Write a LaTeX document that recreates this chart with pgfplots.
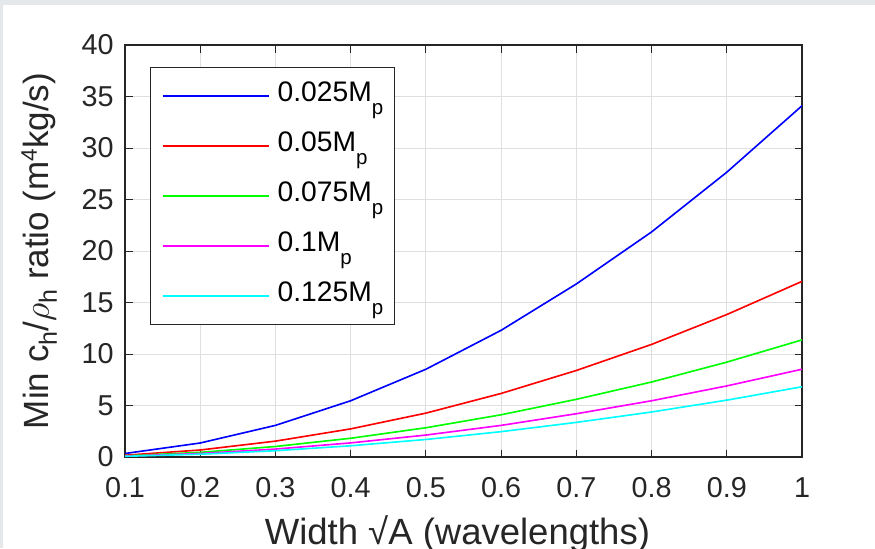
\documentclass[border=0pt]{standalone}
\usepackage{fontspec}
\setmainfont{Liberation Sans}
\usepackage{pgfplots}
\pgfplotsset{compat=1.18}
\definecolor{bgframe}{RGB}{229,232,234}
\definecolor{axgray}{RGB}{38,38,38}
\definecolor{gridgray}{RGB}{223,223,223}
\definecolor{cblue}{RGB}{0,0,255}
\definecolor{cred}{RGB}{255,0,0}
\definecolor{cgreen}{RGB}{0,255,0}
\definecolor{cmagenta}{RGB}{255,0,255}
\definecolor{ccyan}{RGB}{0,255,255}
\newcommand{\Mp}{M\raisebox{-5pt}{\fontsize{8.2}{9}\selectfont p}}
\newcommand{\hsub}{\raisebox{-3.2pt}{\fontsize{10}{11}\selectfont h}}
\pgfplotsset{
  limg/.style={color=#1, legend image code/.code={\draw[draw=#1, line width=0.8pt] (0pt,0.1pt) -- (42.4pt,0.1pt);}}
}
\begin{document}
\begin{tikzpicture}
\fill[bgframe] (0,0) rectangle (350pt,219.2pt);
\fill[white] (1.2pt,0) rectangle (350pt,217.2pt);
\useasboundingbox (0,0) rectangle (350pt,219.2pt);
\begin{axis}[
 at={(50pt,36.4pt)}, anchor=south west,
 scale only axis, width=270.8pt, height=164.8pt,
 xmin=0.1, xmax=1, ymin=0, ymax=40,
 xtick={0.1,0.2,0.3,0.4,0.5,0.6,0.7,0.8,0.9,1},
 xticklabels={0.1,0.2,0.3,0.4,0.5,0.6,0.7,0.8,0.9,1},
 ytick={0,5,10,15,20,25,30,35,40},
 tick align=inside, xtick pos=both, ytick pos=both,
 major tick length=3pt,
 tick style={axgray, line width=0.4pt},
 axis line style={axgray, line width=0.5pt},
 grid=major, grid style={gridgray, line width=0.4pt},
 tick label style={font=\fontsize{11.5}{13}\selectfont, text=axgray},
 /pgf/number format/assume math mode=true,
 xticklabel style={yshift=-4.7pt},
 yticklabel style={xshift=-1pt},
 xlabel={Width √A (wavelengths)},
 ylabel={Min c\hsub/$\rho$\hsub\ ratio (m\raisebox{4.8pt}{\fontsize{9}{10}\selectfont 4}kg/s)},
 label style={font=\fontsize{14}{16}\selectfont, text=axgray},
 xlabel style={at={(axis description cs:0.491,-0.2136)}, anchor=base, font=\fontsize{14.6}{16}\selectfont},
 ylabel style={at={(axis description cs:-0.1123,0.5)}, anchor=base},
 legend style={at={(axis description cs:0.0369,0.947)}, anchor=north west,
   draw=axgray, line width=0.5pt, fill=white, inner xsep=4.4pt, inner ysep=5.6pt,
   row sep=8.4pt, column sep=3.2pt, font=\fontsize{11.3}{13}\selectfont,
   nodes={inner sep=0pt, text height=8.1pt, text depth=3.5pt}},
 legend cell align=left,
 every axis plot/.append style={line width=0.65pt},
]
\addplot[limg=cblue] coordinates {(0.1,0.34) (0.2,1.36) (0.3,3.07) (0.4,5.46) (0.5,8.52) (0.6,12.3) (0.7,16.8) (0.8,21.85) (0.9,27.65) (1.0,34.1)};
\addlegendentry{0.025\Mp}
\addplot[limg=cred] coordinates {(0.1,0.17) (0.2,0.68) (0.3,1.54) (0.4,2.73) (0.5,4.26) (0.6,6.17) (0.7,8.4) (0.8,10.93) (0.9,13.83) (1.0,17.05)};
\addlegendentry{0.05\Mp}
\addplot[limg=cgreen] coordinates {(0.1,0.11) (0.2,0.45) (0.3,1.02) (0.4,1.82) (0.5,2.84) (0.6,4.1) (0.7,5.6) (0.8,7.28) (0.9,9.21) (1.0,11.37)};
\addlegendentry{0.075\Mp}
\addplot[limg=cmagenta] coordinates {(0.1,0.085) (0.2,0.34) (0.3,0.77) (0.4,1.37) (0.5,2.13) (0.6,3.07) (0.7,4.2) (0.8,5.46) (0.9,6.9) (1.0,8.52)};
\addlegendentry{0.1\Mp}
\addplot[limg=ccyan] coordinates {(0.1,0.07) (0.2,0.27) (0.3,0.61) (0.4,1.09) (0.5,1.7) (0.6,2.46) (0.7,3.36) (0.8,4.37) (0.9,5.52) (1.0,6.82)};
\addlegendentry{0.125\Mp}
\end{axis}
\end{tikzpicture}
\end{document}
